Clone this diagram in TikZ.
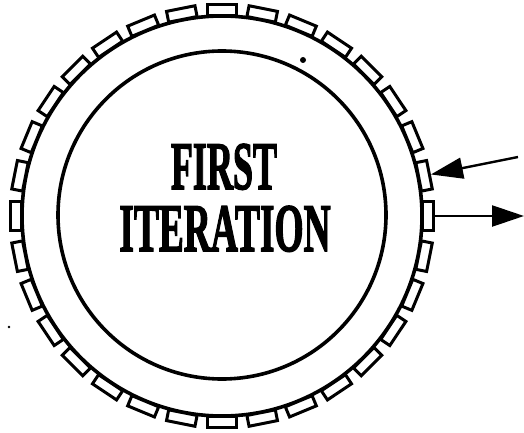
\documentclass[tikz,border=0pt]{standalone}
\usepackage{fontspec}
\setmainfont{Liberation Serif}
\newfontfamily\heavyfont[FakeBold=2.5]{Liberation Serif Bold}
\usetikzlibrary{arrows.meta}
\begin{document}
\begin{tikzpicture}[x=1pt,y=-1pt,
  ring/.style={circle,draw,line width=3.6pt,inner sep=0pt},
  tooth/.style={rectangle,draw,line width=3pt,fill=white,inner sep=0pt,minimum width=29pt,minimum height=11pt},
  flow/.style={line width=2.4pt,-{Triangle[length=32pt,width=21pt]}},
  label/.style={font=\heavyfont\fontsize{68}{68}\selectfont,inner sep=0pt,anchor=base}
]
\useasboundingbox (0,0) rectangle (524,433);
\node[ring,minimum size=400pt] (outer) at (222,216) {};
\node[ring,minimum size=328pt] (inner) at (222,215) {};
\foreach \i in {0,...,31}{
  \pgfmathsetmacro{\a}{\i*11.25}
  \node[tooth,rotate=\a-90] (r\i) at ({222+206*cos(\a)},{216-206*sin(\a)}) {};
}
\node[label] (first) at (224,189) {\scalebox{0.53}[1]{FIRST}};
\node[label] (iter) at (225,251) {\scalebox{0.55}[1]{ITERATION}};
\coordinate (instart) at (518,157);
\coordinate (outend) at (524,216);
\draw[flow] (instart) -- (r1.north);
\draw[flow] (r0.north) -- (outend);
\fill (303,60) circle (3pt);
\fill (9,327) circle (1.4pt);
\end{tikzpicture}
\end{document}
